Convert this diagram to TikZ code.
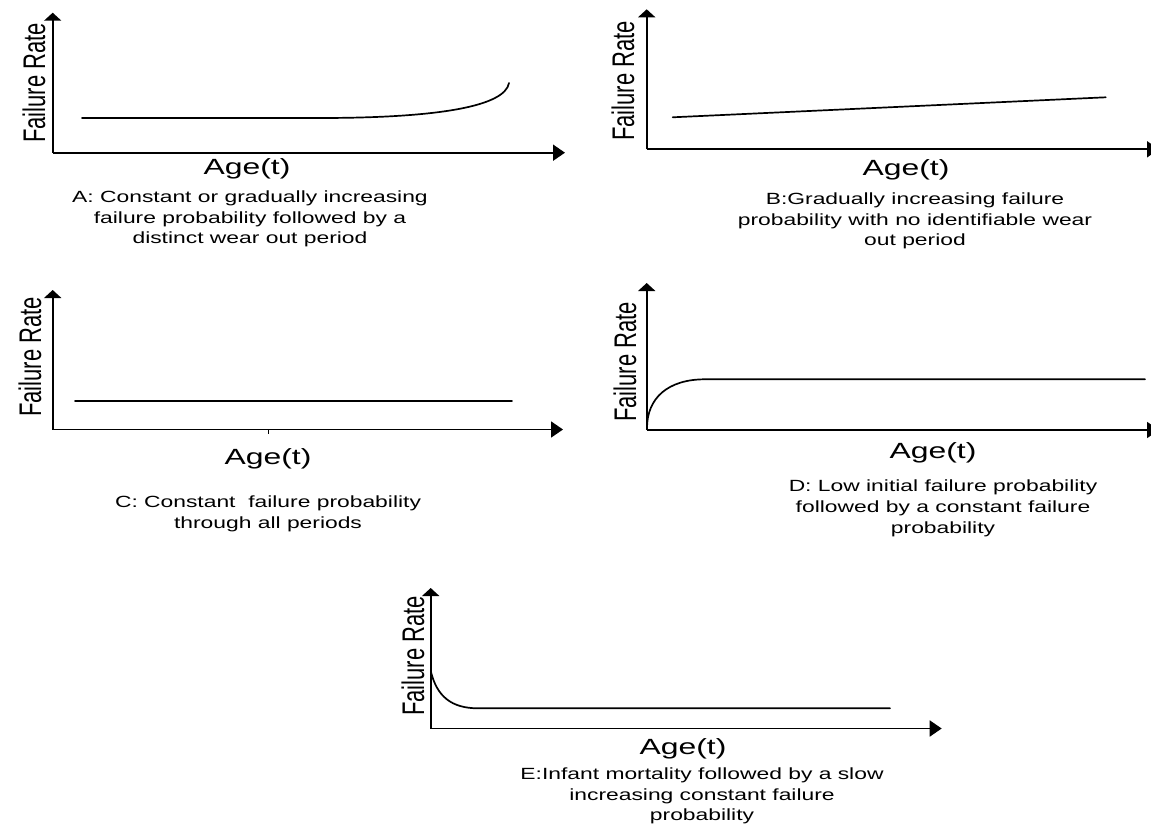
\documentclass[tikz,border=0pt]{standalone}
\usepackage{graphicx}
\usepackage{fontspec}
\setmainfont{Liberation Sans}
\usetikzlibrary{arrows.meta}

% labels are set a little wider than the font's natural width
\newcommand{\widetext}[1]{\scalebox{1.45}[1]{#1}}
\newcommand{\widecapt}[1]{\scalebox{1.41}[1]{#1}}
\newcommand{\tallrot}[1]{\scalebox{1}[1.42]{#1}}

\tikzset{
  axis/.style={line width=1.8pt, line cap=butt},
  yarrow/.style={axis, -{Triangle[length=8pt,width=17pt]}},
  xarrow/.style={axis, -{Triangle[length=12pt,width=16pt]}},
  curve/.style={line width=1.7pt, line cap=round},
  axlabel/.style={inner sep=0pt, font=\fontsize{22}{24}\selectfont},
  ratelabel/.style={axlabel, rotate=90},
  capt/.style={inner sep=0pt, font=\fontsize{16.2}{20.7}\selectfont}
}

\begin{document}
\begin{tikzpicture}[x=1pt, y=-1pt]
\useasboundingbox (0,0) rectangle (1151,824);

% ---------- A ----------
\coordinate (Ao) at (52.7,152.7);
\coordinate (Ay) at (52.7,12.7);
\coordinate (Ax) at (565,152.7);
\draw[yarrow] (Ao) -- (Ay);
\draw[xarrow] (Ao) -- (Ax);
\coordinate (As) at (82,118);
\coordinate (Am) at (320,118);
\coordinate (Ae) at (509,83);
\draw[curve] (As) -- (Am) .. controls (440,118) and (505,106) .. (Ae);
\node[ratelabel] (Ar) at (34,83) {\tallrot{Failure Rate}};
\node[axlabel] (Aa) at (247,169) {\widetext{Age(t)}};
\node[capt] (Ac) at (250,219) {\widecapt{\begin{tabular}{@{}c@{}}A: Constant or gradually increasing\\failure probability followed by a\\distinct wear out period\end{tabular}}};

% ---------- B ----------
\coordinate (Bo) at (646.7,149.3);
\coordinate (By) at (646.7,9.3);
\coordinate (Bx) at (1159,149.3);
\draw[yarrow] (Bo) -- (By);
\draw[xarrow] (Bo) -- (Bx);
\coordinate (Bs) at (672.7,117.3);
\coordinate (Be) at (1105.7,97.3);
\draw[curve] (Bs) -- (Be);
\node[ratelabel] (Br) at (623,81) {\tallrot{Failure Rate}};
\node[axlabel] (Ba) at (906,170) {\widetext{Age(t)}};
\node[capt] (Bc) at (915,221) {\widecapt{\begin{tabular}{@{}c@{}}B:Gradually increasing failure\\probability with no identifiable wear\\out period\end{tabular}}};

% ---------- C ----------
\coordinate (Co) at (52.7,429.5);
\coordinate (Cy) at (52.7,290);
\coordinate (Cx) at (563,429.5);
\draw[yarrow] (Co) -- (Cy);
\draw[xarrow] (Co) -- (Cx);
\coordinate (Ct) at (268,429.5);
\draw[line width=1pt] (Ct) -- ++(0,4);
\coordinate (Cs) at (75,401);
\coordinate (Ce) at (512,401);
\draw[curve] (Cs) -- (Ce);
\node[ratelabel] (Cr) at (30,357) {\tallrot{Failure Rate}};
\node[axlabel] (Ca) at (268,459) {\widetext{Age(t)}};
\node[capt] (Cc) at (268,514) {\widecapt{\begin{tabular}{@{}c@{}}C: Constant\ \ failure probability\\through all periods\end{tabular}}};

% ---------- D ----------
\coordinate (Do) at (646.7,430);
\coordinate (Dy) at (646.7,283);
\coordinate (Dx) at (1159,430);
\draw[yarrow] (Do) -- (Dy);
\draw[xarrow] (Do) -- (Dx);
\coordinate (Ds) at (647,428);
\coordinate (Dm) at (705,379.3);
\coordinate (De) at (1145,379.3);
\draw[curve] (Ds) .. controls (647,398) and (668,379.3) .. (Dm) -- (De);
\node[ratelabel] (Dr) at (625,362) {\tallrot{Failure Rate}};
\node[axlabel] (Da) at (933,453) {\widetext{Age(t)}};
\node[capt] (Dc) at (943,508.5) {\widecapt{\begin{tabular}{@{}c@{}}D: Low initial failure probability\\followed by a constant failure\\probability\end{tabular}}};

% ---------- E ----------
\coordinate (Eo) at (430.7,728.5);
\coordinate (Ey) at (430.7,588);
\coordinate (Ex) at (941.7,728.5);
\draw[yarrow] (Eo) -- (Ey);
\draw[xarrow] (Eo) -- (Ex);
\coordinate (Es) at (431,672);
\coordinate (Em) at (478,708.3);
\coordinate (Ee) at (890,708.3);
\draw[curve] (Es) .. controls (437,696) and (451,708.3) .. (Em) -- (Ee);
\node[ratelabel] (Er) at (413,656) {\tallrot{Failure Rate}};
\node[axlabel] (Ea) at (683,749) {\widetext{Age(t)}};
\node[capt] (Ec) at (702,796) {\widecapt{\begin{tabular}{@{}c@{}}E:Infant mortality followed by a slow\\increasing constant failure\\probability\end{tabular}}};
\end{tikzpicture}
\end{document}
